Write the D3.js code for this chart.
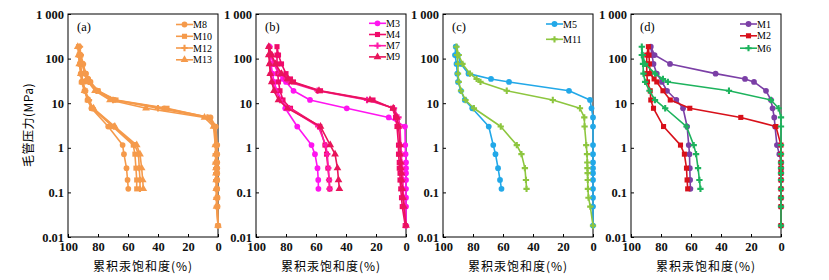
<!DOCTYPE html>
<html>
<head>
<meta charset="utf-8">
<script src="https://cdn.jsdelivr.net/npm/d3@7"></script>
<style>
  body { margin: 0; background: #fff; }
  svg text { font-family: "Liberation Serif", "Times New Roman", serif; }
  .cjk { font-family: "Noto Sans CJK SC", sans-serif; }
</style>
</head>
<body>
<div id="chart"></div>
<script>
// pressure steps (MPa): intrusion goes up, withdrawal comes back down
const pIn = [0.018, 0.048, 0.076, 0.12, 0.19, 0.27, 0.35, 0.47, 0.72, 1.15, 3.0, 4.8, 7.7, 11.8, 19, 30, 35, 46, 76, 120, 185];
const pOut = [120, 76, 46, 30, 19, 11.8, 7.7, 3.0, 1.15, 0.72, 0.35, 0.19, 0.12];

const xTicks = [100, 80, 60, 40, 20, 0];
const yTicks = [0.01, 0.1, 1, 10, 100, 1000];
const yTickLabels = ["0.01", "0.1", "1", "10", "100", "1 000"];

const panelNames = ["(a)", "(b)", "(c)", "(d)"];
const xTitle = "累积汞饱和度(%)";
const yTitle = "毛管压力(MPa)";

// panel (a)
const m8In  = [0, 0.3, 0.3, 0.5, 0.5, 0.5, 0.5, 0.5, 0.5, 0.5, 1.5, 5, 36, 69, 80, 85, 86.5, 88, 90, 91.5, 92.5];
const m8Out = [92.3, 92, 91.5, 91, 89, 87, 84.4, 73.2, 63.6, 62.7, 61, 60.3, 59.8];
const m10In  = [0, 0.5, 0.5, 0.8, 0.8, 0.8, 1, 1, 1, 1, 2, 6, 34, 68, 80, 85.5, 87, 88.5, 90.5, 92, 93];
const m10Out = [92.5, 92, 91, 90.5, 88.5, 86.5, 84, 70.3, 56.5, 55.4, 54.7, 54.2, 54.2];
const m12In  = [0, 0.8, 1, 1, 1.2, 1.2, 1.2, 1.5, 1.5, 1.5, 2.5, 7, 40, 70, 81, 86, 87, 88.5, 90, 91.5, 92];
const m12Out = [92, 91.5, 91, 90, 88.5, 86, 83.5, 69.4, 55.4, 53, 52.5, 52, 52];
const m13In  = [0, 1, 1, 1.2, 1.2, 1.4, 1.4, 1.6, 1.6, 1.8, 3, 9, 48, 72, 82, 86.5, 87.5, 89, 90.5, 92, 93.5];
const m13Out = [93, 92.5, 91.5, 90.5, 89, 86.5, 83, 68.8, 54.2, 52, 50.9, 50.2, 49.8];

// panel (b)
const m3In  = [0, 0, 0, 0, 0, 0, 0, 0, 0.3, 0.5, 0.7, 11.5, 39.5, 64, 75, 80, 82, 85, 88, 90, 91];
const m3Out = [90.5, 90, 89, 88, 86, 83, 80.5, 72.5, 63, 60.7, 59, 58.5, 58.4];
const m4In  = [0.5, 2.5, 3, 3.5, 4, 4, 4.5, 4.5, 5, 5, 6, 7, 9, 22, 57, 75, 77, 80, 83, 85, 86];
const m4Out = [86, 86, 85.5, 85, 84, 82, 77, 57.5, 54, 53, 52, 51.2, 50.8];
const m7In  = [0, 1, 1.5, 2, 2, 2.5, 2.5, 3, 3, 3.5, 4, 5, 8, 26, 59, 78, 80, 84, 88, 90, 91];
const m7Out = [91, 90.5, 90, 89, 87, 84, 78, 58.5, 53.5, 52.5, 51.8, 51.3, 51];
const m9In  = [0, 1.5, 2, 2.5, 3, 3, 3.5, 3.5, 4, 4, 5, 6, 8.5, 24, 58, 76, 79, 83, 87, 89.5, 91.5];
const m9Out = [91.5, 91, 90.5, 89.5, 88, 85, 79, 57, 50.5, 47.3, 45.7, 45, 44.4];

// panel (c)
const m5In  = [0, 0, 0, 0, 0, 0, 0, 0, 0, 0, 0, 0, 1, 2, 16, 56, 68, 83, 88, 90, 91.5];
const m5Out = [92, 91, 90.5, 90, 88, 85.5, 80.5, 69.5, 66.5, 65, 63.3, 62, 61];
const m11In  = [0, 1.8, 3, 3.4, 3.5, 3.6, 3.7, 3.8, 4, 4.5, 5.6, 5.8, 8.7, 26.8, 57.5, 75, 77.6, 82, 87, 89.5, 91];
const m11Out = [90.6, 90, 90, 89.5, 88, 85, 79.4, 61.5, 50.8, 47.7, 45.4, 44.7, 44.3];

// panel (d)
const m1In  = [0, 0, 0, 0, 0, 0, 0, 0, 1.1, 2.7, 4, 4.5, 5.6, 6.7, 10, 18, 24, 43.6, 74, 84.3, 86.8];
const m1Out = [86, 85, 82.8, 79.4, 76, 69.8, 65.3, 62.6, 61.5, 61, 60.8, 60.6, 60.4];
const m2In  = [0, 0, 0, 0, 0, 0, 0, 0, 0, 0, 3.4, 26.8, 60.8, 73.8, 78.7, 82.8, 84.6, 87.2, 87.7, 88, 88.4];
const m2Out = [89.5, 89.5, 89.5, 89, 87.2, 86.8, 85, 78.3, 67, 64.4, 63, 62.6, 62.2];
const m6In  = [0, 0, 0, 0, 0, 0, 0, 0, 0, 0, 0, 0, 1.6, 6.7, 34.7, 75.4, 78.7, 84, 90.6, 92.2, 92.8];
const m6Out = [92.8, 92, 91.7, 90.6, 87.7, 84, 77.2, 63, 58.2, 56.6, 55.3, 54.4, 53.7];

const orange = "#f59a4b";

const panels = [
  {series: [
    {name: "M8",  inn: m8In,  out: m8Out,  color: orange, sym: d3.symbolCircle},
    {name: "M10", inn: m10In, out: m10Out, color: orange, sym: d3.symbolSquare},
    {name: "M12", inn: m12In, out: m12Out, color: orange, sym: d3.symbolCross},
    {name: "M13", inn: m13In, out: m13Out, color: orange, sym: d3.symbolTriangle}
  ], legendX: 193, legendY: [24.5, 36.3, 48, 59.8]},
  {series: [
    {name: "M3", inn: m3In, out: m3Out, color: "#ff14f0", sym: d3.symbolCircle},
    {name: "M4", inn: m4In, out: m4Out, color: "#f00a6a", sym: d3.symbolSquare},
    {name: "M7", inn: m7In, out: m7Out, color: "#ff1aa8", sym: d3.symbolCross},
    {name: "M9", inn: m9In, out: m9Out, color: "#e8145a", sym: d3.symbolTriangle}
  ], legendX: 386, legendY: [23.3, 34.5, 45.7, 56.9]},
  {series: [
    {name: "M5",  inn: m5In,  out: m5Out,  color: "#22a8e8", sym: d3.symbolCircle},
    {name: "M11", inn: m11In, out: m11Out, color: "#8dc63f", sym: d3.symbolCross}
  ], legendX: 563, legendY: [24, 39.3]},
  {series: [
    {name: "M1", inn: m1In, out: m1Out, color: "#7b3fa6", sym: d3.symbolCircle},
    {name: "M2", inn: m2In, out: m2Out, color: "#d8101a", sym: d3.symbolSquare},
    {name: "M6", inn: m6In, out: m6Out, color: "#1db35d", sym: d3.symbolCross}
  ], legendX: 757, legendY: [24, 35.8, 48.2]}
];

const width = 829;
const height = 280;
const lefts = [68, 256, 443, 631];
const pw = 150;
const plotTop = 14, plotBottom = 237;

const svg = d3.select("#chart").append("svg")
    .attr("width", width)
    .attr("height", height)
    .attr("viewBox", [0, 0, width, height]);

const y = d3.scaleLog().domain([0.01, 1000]).range([plotBottom, plotTop]);

panels.forEach((panel, i) => {
  const x = d3.scaleLinear().domain([100, 0]).range([lefts[i], lefts[i] + pw]);
  const g = svg.append("g");

  g.append("rect")
      .attr("x", lefts[i]).attr("y", plotTop)
      .attr("width", pw).attr("height", plotBottom - plotTop)
      .attr("fill", "none").attr("stroke", "#000").attr("stroke-width", 1);

  g.append("g")
      .attr("transform", `translate(0,${plotBottom})`)
      .call(d3.axisBottom(x).tickValues(xTicks).tickSize(-3).tickPadding(5).tickSizeOuter(0))
      .call(a => a.select(".domain").remove())
      .call(a => a.selectAll("text").attr("font-size", 12.5).attr("font-weight", "bold").attr("fill", "#111"));

  g.append("g")
      .attr("transform", `translate(${lefts[i]},0)`)
      .call(d3.axisLeft(y).tickValues(yTicks).tickFormat((d, k) => yTickLabels[k]).tickSize(-3).tickPadding(4).tickSizeOuter(0))
      .call(a => a.select(".domain").remove())
      .call(a => a.selectAll("text").attr("font-size", 12.5).attr("font-weight", "bold").attr("fill", "#111"));

  g.append("text")
      .attr("class", "cjk")
      .attr("x", lefts[i] + pw / 2).attr("y", 271)
      .attr("text-anchor", "middle")
      .attr("font-size", 12).attr("letter-spacing", 1)
      .text(xTitle);

  g.append("text")
      .attr("x", lefts[i] + 9).attr("y", 31)
      .attr("font-size", 12.5)
      .text(panelNames[i]);

  const line = d3.line().x(d => x(d.s)).y(d => y(d.p));

  panel.series.forEach(s => {
    const pts = pIn.map((p, k) => ({p, s: s.inn[k]}))
        .concat(pOut.map((p, k) => ({p, s: s.out[k]})));
    g.append("path")
        .datum(pts)
        .attr("fill", "none")
        .attr("stroke", s.color)
        .attr("stroke-width", 1.6)
        .attr("stroke-linejoin", "round")
        .attr("d", line);
    g.append("g").selectAll("path")
        .data(pts)
        .join("path")
        .attr("transform", d => `translate(${x(d.s)},${y(d.p)})`)
        .attr("d", d3.symbol().type(s.sym).size(s.sym === d3.symbolCross ? 22 : 26))
        .attr("fill", s.color);
  });

  // legend
  panel.series.forEach((s, k) => {
    const ly = panel.legendY[k];
    g.append("line")
        .attr("x1", panel.legendX - 17).attr("x2", panel.legendX)
        .attr("y1", ly).attr("y2", ly)
        .attr("stroke", s.color).attr("stroke-width", 1.6);
    g.append("path")
        .attr("transform", `translate(${panel.legendX - 8.5},${ly})`)
        .attr("d", d3.symbol().type(s.sym).size(s.sym === d3.symbolCross ? 22 : 26))
        .attr("fill", s.color);
    g.append("text")
        .attr("x", panel.legendX).attr("y", ly + 3.5)
        .attr("font-size", 10)
        .text(s.name);
  });
});

svg.append("text")
    .attr("class", "cjk")
    .attr("transform", "translate(33,125) rotate(-90)")
    .attr("text-anchor", "middle")
    .attr("font-size", 12).attr("letter-spacing", 0.5)
    .text(yTitle);
</script>
</body>
</html>
